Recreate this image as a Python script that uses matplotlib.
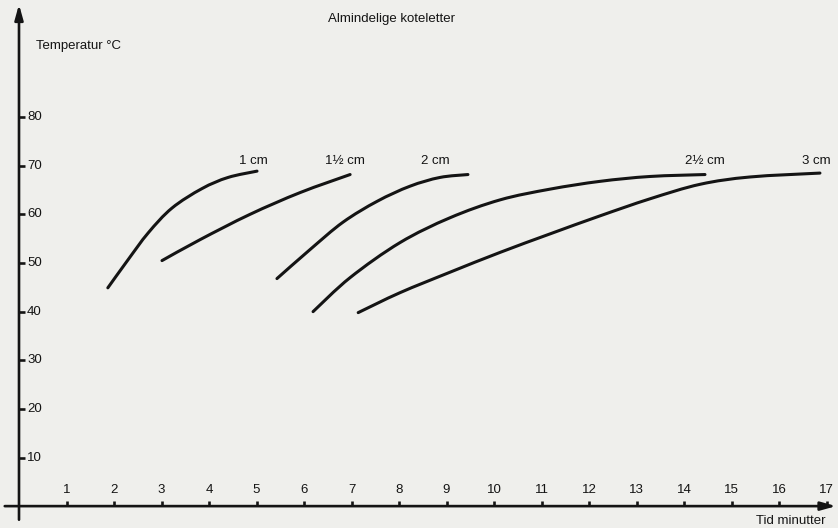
import matplotlib.pyplot as plt
from matplotlib.path import Path
from matplotlib.patches import PathPatch

# Time (minutes) vs core temperature (deg C)
t_1cm = [1.87, 2.29, 2.72, 3.22, 3.85, 4.40, 5.01]
T_1cm = [44.9, 50.6, 56.2, 61.3, 65.3, 67.6, 68.9]

t_15cm = [3.01, 3.81, 4.86, 5.92, 6.97]
T_15cm = [50.5, 54.8, 60.0, 64.5, 68.2]

t_2cm = [5.43, 6.13, 6.82, 7.54, 8.23, 8.86, 9.45]
T_2cm = [46.8, 52.8, 58.4, 62.7, 65.8, 67.6, 68.2]

t_25cm = [6.19, 6.97, 8.02, 9.07, 10.13, 11.18, 12.23, 13.28, 14.44]
T_25cm = [40.0, 47.0, 54.2, 59.3, 63.0, 65.2, 66.8, 67.8, 68.2]

t_3cm = [7.14, 8.02, 9.07, 10.13, 11.18, 12.23, 13.28, 14.34, 15.39, 16.86]
T_3cm = [39.8, 43.9, 48.1, 52.2, 56.0, 59.7, 63.2, 66.2, 67.7, 68.5]

curve_labels = ['1 cm', '1½ cm', '2 cm', '2½ cm', '3 cm']
label_x = [4.93, 6.86, 8.76, 14.44, 16.78]

x_ticks = list(range(1, 18))
y_ticks = [10, 20, 30, 40, 50, 60, 70, 80]

ink = '#141414'
paper = '#efefec'
font = 'Liberation Sans'


def smooth_path(xs, ys):
    # Catmull-Rom through the read points, drawn as cubic Bezier segments
    pts = list(zip(xs, ys))
    verts = [pts[0]]
    codes = [Path.MOVETO]
    n = len(pts)
    for i in range(n - 1):
        p0 = pts[i - 1] if i > 0 else pts[i]
        p1 = pts[i]
        p2 = pts[i + 1]
        p3 = pts[i + 2] if i + 2 < n else pts[i + 1]
        c1 = (p1[0] + (p2[0] - p0[0]) / 6, p1[1] + (p2[1] - p0[1]) / 6)
        c2 = (p2[0] - (p3[0] - p1[0]) / 6, p2[1] - (p3[1] - p1[1]) / 6)
        verts += [c1, c2, p2]
        codes += [Path.CURVE4] * 3
    return Path(verts, codes)


fig = plt.figure(figsize=(8.38, 5.28), dpi=100, facecolor=paper)
ax = fig.add_axes([0, 0, 1, 1])
ax.set_facecolor(paper)
ax.set_xlim(-0.4, 17.24)
ax.set_ylim(-4.5, 104.1)
ax.axis('off')

# axes with arrow heads
ax.annotate('', xy=(0, 103.2), xytext=(0, -2.8),
            arrowprops=dict(arrowstyle='-|>,head_length=0.9,head_width=0.25',
                            color=ink, lw=1.9, shrinkA=0, shrinkB=0))
ax.annotate('', xy=(17.2, 0), xytext=(-0.3, 0),
            arrowprops=dict(arrowstyle='-|>,head_length=0.9,head_width=0.25',
                            color=ink, lw=1.9, shrinkA=0, shrinkB=0))

# ticks and tick labels
for x in x_ticks:
    ax.plot([x, x], [0, 1.0], color=ink, lw=1.9, solid_capstyle='butt')
    ax.text(x, 3.3, str(x), ha='center', va='center', fontsize=9.5,
            family=font, color=ink)
for y in y_ticks:
    ax.plot([0, 0.12], [y, y], color=ink, lw=1.9, solid_capstyle='butt')
    ax.text(0.17, y, str(y), ha='left', va='center', fontsize=9.5,
            family=font, color=ink)

# curves
series = [(t_1cm, T_1cm), (t_15cm, T_15cm), (t_2cm, T_2cm),
          (t_25cm, T_25cm), (t_3cm, T_3cm)]
for (tt, TT), lab, lx in zip(series, curve_labels, label_x):
    ax.add_patch(PathPatch(smooth_path(tt, TT), facecolor='none',
                           edgecolor=ink, lw=2.2, capstyle='round'))
    ax.text(lx, 71.0, lab, ha='center', va='center', fontsize=9.5,
            family=font, color=ink)

ax.text(7.85, 100.2, 'Almindelige koteletter', ha='center', va='center',
        fontsize=9.5, family=font, color=ink)
ax.text(0.36, 94.6, 'Temperatur °C', ha='left', va='center',
        fontsize=9.5, family=font, color=ink)
ax.text(16.25, -3.1, 'Tid minutter', ha='center', va='center',
        fontsize=9.5, family=font, color=ink)

fig.savefig('out.png', dpi=100, facecolor=paper)
